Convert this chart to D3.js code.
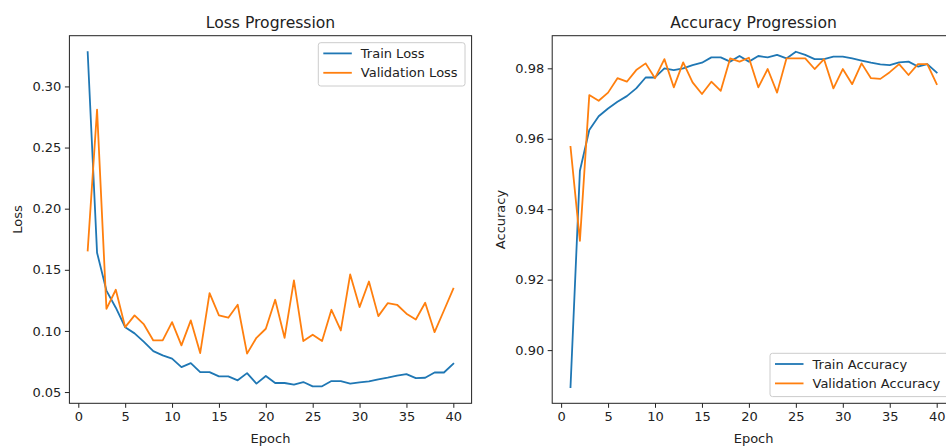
<!DOCTYPE html>
<html>
<head>
<meta charset="utf-8">
<script src="https://cdn.jsdelivr.net/npm/d3@7"></script>
<style>
  body { margin: 0; background: #fff; }
  text { font-family: "DejaVu Sans", sans-serif; fill: #222; }
  .axis path, .axis line { stroke: #222; }
  .axis text { font-size: 13px; fill: #222; }
</style>
</head>
<body>
<div id="chart"></div>
<script>
var svgWidth = 946;
var svgHeight = 447;

// epochs 1..40
var epochs = d3.range(1, 41);

var trainLoss = [0.328, 0.164, 0.133, 0.119, 0.103, 0.098, 0.091, 0.0835, 0.080, 0.0773,
  0.0704, 0.0737, 0.0663, 0.0663, 0.0628, 0.0628, 0.0596, 0.0655, 0.0569, 0.0631,
  0.0574, 0.0574, 0.056, 0.0582, 0.0547, 0.0547, 0.059, 0.059, 0.0569, 0.058,
  0.0588, 0.0604, 0.0618, 0.0634, 0.0647, 0.0614, 0.0617, 0.066, 0.066, 0.0732];

var valLoss = [0.1658, 0.281, 0.1181, 0.1337, 0.1031, 0.1127, 0.1053, 0.0922, 0.0922, 0.1072,
  0.0882, 0.1086, 0.0819, 0.1309, 0.1127, 0.1108, 0.1214, 0.0814, 0.0944, 0.1018,
  0.1255, 0.0944, 0.1413, 0.0917, 0.0969, 0.0917, 0.1173, 0.1004, 0.1462, 0.1195,
  0.1404, 0.1121, 0.1227, 0.1214, 0.1141, 0.1094, 0.123, 0.099, 0.1167, 0.1345];

var trainAcc = [0.8895, 0.9509, 0.9625, 0.9664, 0.9686, 0.9705, 0.9721, 0.9743, 0.9774, 0.9774,
  0.9800, 0.9795, 0.9800, 0.9809, 0.9816, 0.9831, 0.9831, 0.9819, 0.9835, 0.9819,
  0.9835, 0.9831, 0.9838, 0.9828, 0.9847, 0.9838, 0.9826, 0.9826, 0.9833, 0.9833,
  0.9828, 0.9822, 0.9816, 0.9811, 0.9809, 0.9817, 0.9819, 0.9805, 0.9812, 0.9788];

var valAcc = [0.9577, 0.9310, 0.9724, 0.9708, 0.9731, 0.9772, 0.9762, 0.9795, 0.9814, 0.9772,
  0.9826, 0.9746, 0.9817, 0.9760, 0.9727, 0.9762, 0.9736, 0.9828, 0.9819, 0.9830,
  0.9746, 0.9798, 0.9731, 0.9828, 0.9828, 0.9828, 0.9798, 0.9826, 0.9743, 0.9798,
  0.9755, 0.9814, 0.9772, 0.9770, 0.9789, 0.9812, 0.9781, 0.9812, 0.9812, 0.9755];

var xTicks = [0, 5, 10, 15, 20, 25, 30, 35, 40];
var lossTicks = [0.05, 0.10, 0.15, 0.20, 0.25, 0.30];
var accTicks = [0.90, 0.92, 0.94, 0.96, 0.98];

var blue = "#1f77b4";
var orange = "#ff7f0e";

var svg = d3.select("#chart")
  .append("svg")
  .attr("width", svgWidth)
  .attr("height", svgHeight);

var axTop = 35.7;
var axBottom = 403.3;

function drawPanel(opts) {
  var g = svg.append("g");

  var xScale = d3.scaleLinear()
    .domain([-0.95, 41.95])
    .range([opts.left, opts.right]);

  var yScale = d3.scaleLinear()
    .domain(opts.yDomain)
    .range([axBottom, axTop]);

  var xAxis = d3.axisBottom(xScale)
    .tickValues(xTicks)
    .tickSize(4.5)
    .tickPadding(3.5)
    .tickFormat(d3.format("d"));

  var yAxis = d3.axisLeft(yScale)
    .tickValues(opts.yTicks)
    .tickSize(4.5)
    .tickPadding(3.5)
    .tickFormat(d3.format(".2f"));

  g.append("g")
    .attr("class", "axis")
    .attr("transform", `translate(0, ${axBottom})`)
    .call(xAxis)
    .call(a => a.select(".domain").remove());

  g.append("g")
    .attr("class", "axis")
    .attr("transform", `translate(${opts.left}, 0)`)
    .call(yAxis)
    .call(a => a.select(".domain").remove());

  // spines
  g.append("rect")
    .attr("x", opts.left)
    .attr("y", axTop)
    .attr("width", opts.right - opts.left)
    .attr("height", axBottom - axTop)
    .attr("fill", "none")
    .attr("stroke", "#222")
    .attr("stroke-width", 1);

  var line = d3.line()
    .x((d, i) => xScale(epochs[i]))
    .y(d => yScale(d));

  opts.series.forEach(function(s) {
    g.append("path")
      .datum(s.values)
      .attr("fill", "none")
      .attr("stroke", s.color)
      .attr("stroke-width", 1.8)
      .attr("stroke-linejoin", "round")
      .attr("stroke-linecap", "square")
      .attr("d", line);
  });

  var mid = (opts.left + opts.right) / 2;

  g.append("text")
    .attr("x", mid)
    .attr("y", 28)
    .attr("text-anchor", "middle")
    .style("font-size", "15.6px")
    .text(opts.title);

  g.append("text")
    .attr("x", mid)
    .attr("y", 442.5)
    .attr("text-anchor", "middle")
    .style("font-size", "13px")
    .text("Epoch");

  g.append("text")
    .attr("transform", `translate(${opts.ylabelX}, ${(axTop + axBottom) / 2}) rotate(-90)`)
    .attr("text-anchor", "middle")
    .style("font-size", "13px")
    .text(opts.ylabel);

  // legend
  var lg = g.append("g");
  lg.append("rect")
    .attr("x", opts.legend.x)
    .attr("y", opts.legend.y)
    .attr("width", opts.legend.w)
    .attr("height", opts.legend.h)
    .attr("rx", 2.5)
    .attr("fill", "#fff")
    .attr("fill-opacity", 0.8)
    .attr("stroke", "#cccccc")
    .attr("stroke-width", 1);

  opts.series.forEach(function(s, i) {
    var yy = opts.legend.y + 10.7 + i * 19.4;
    lg.append("line")
      .attr("x1", opts.legend.x + 5)
      .attr("x2", opts.legend.x + 33.5)
      .attr("y1", yy)
      .attr("y2", yy)
      .attr("stroke", s.color)
      .attr("stroke-width", 1.8);
    lg.append("text")
      .attr("x", opts.legend.x + 42.5)
      .attr("y", yy + 4.6)
      .style("font-size", "13px")
      .text(s.name);
  });
}

drawPanel({
  left: 69.4,
  right: 471.6,
  yDomain: [0.0408, 0.3415],
  yTicks: lossTicks,
  title: "Loss Progression",
  ylabel: "Loss",
  ylabelX: 22,
  series: [
    { name: "Train Loss", values: trainLoss, color: blue },
    { name: "Validation Loss", values: valLoss, color: orange }
  ],
  legend: { x: 318.3, y: 42.7, w: 146.7, h: 43.3 }
});

drawPanel({
  left: 552.2,
  right: 955,
  yDomain: [0.8849, 0.98926],
  yTicks: accTicks,
  title: "Accuracy Progression",
  ylabel: "Accuracy",
  ylabelX: 504.5,
  series: [
    { name: "Train Accuracy", values: trainAcc, color: blue },
    { name: "Validation Accuracy", values: valAcc, color: orange }
  ],
  legend: { x: 770, y: 353.3, w: 180, h: 43.3 }
});
</script>
</body>
</html>
